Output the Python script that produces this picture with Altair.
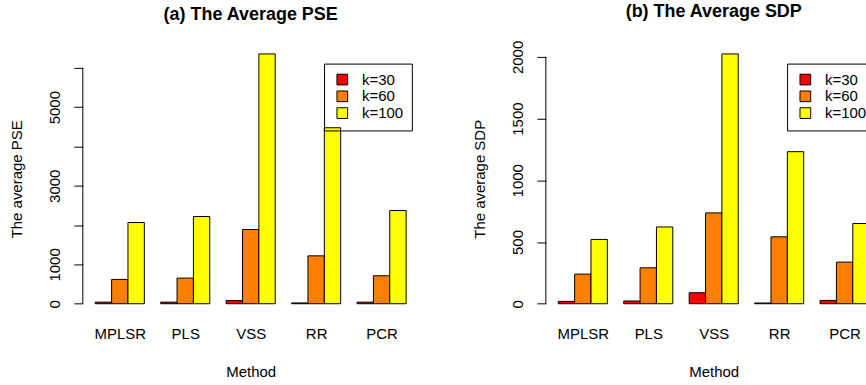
import json
import altair as alt
import pandas as pd

# ---------------- data ----------------
methods = ["MPLSR", "PLS", "VSS", "RR", "PCR"]
series = ["k=30", "k=60", "k=100"]
colors = ["#FF0000", "#FF8000", "#FFFF00"]

pse_k30 = [40, 40, 80, 20, 40]
pse_k60 = [619, 652, 1888, 1218, 711]
pse_k100 = [2066, 2218, 6355, 4477, 2371]

sdp_k30 = [19, 22, 89, 6, 27]
sdp_k60 = [240, 291, 736, 542, 337]
sdp_k100 = [521, 622, 2024, 1232, 650]

pse_ticks = [0, 1000, 2000, 3000, 4000, 5000, 6000]
pse_labeled = [0, 1000, 3000, 5000]
sdp_ticks = [0, 500, 1000, 1500, 2000]
sdp_labeled = [0, 500, 1000, 1500, 2000]

FONT = "Liberation Sans"
UNIT = 16.4          # px per bar width
PLOT_H = 270.4
FS = 15


def make_df(vals_by_series):
    rows = []
    for si, (s, vals) in enumerate(zip(series, vals_by_series)):
        for gi, (m, v) in enumerate(zip(methods, vals)):
            rows.append({"method": m, "series": s, "value": v, "gi": gi, "si": si})
    return pd.DataFrame(rows)


def panel(df, title, ytitle, ticks, labeled):
    per = len(series) + 1
    n = len(methods) * per
    xdom = [1 - 0.04 * (n - 1), n + 0.04 * (n - 1)]
    width = (xdom[1] - xdom[0]) * UNIT
    ymax = float(df["value"].max())
    ydom = [-0.04 * ymax, 1.04 * ymax]
    centers = [gi * per + 1 + len(series) / 2 for gi in range(len(methods))]
    label_expr = f"{json.dumps(methods)}[round((datum.value - {centers[0]}) / {per})]"
    ylab_expr = f"indexof({json.dumps(labeled)}, datum.value) >= 0 ? datum.label : ''"

    bars = alt.Chart(df).transform_calculate(
        x0=f"datum.gi * {per} + datum.si + 1",
        x1=f"datum.gi * {per} + datum.si + 2",
    ).mark_bar(stroke="black", strokeWidth=1, opacity=1).encode(
        x=alt.X("x0:Q",
                scale=alt.Scale(domain=xdom, nice=False, zero=False),
                axis=alt.Axis(values=centers, labelExpr=label_expr, domain=False,
                              ticks=False, tickSize=0, grid=False, labelFontSize=FS,
                              labelBaseline="alphabetic", labelPadding=25.3,
                              labelFlush=False, labelOverlap=False,
                              title="Method", titleFontSize=FS, titleFontWeight="normal",
                              titleBaseline="alphabetic", titleY=62.5)),
        x2="x1:Q",
        y=alt.Y("value:Q", stack=None,
                scale=alt.Scale(domain=ydom, nice=False, zero=False),
                axis=alt.Axis(values=ticks, labelExpr=ylab_expr, format="d", domain=False,
                              grid=False, tickSize=9, tickColor="black", tickWidth=1,
                              labelAngle=270, labelAlign="center", labelBaseline="alphabetic",
                              labelPadding=14.5, labelFontSize=FS, labelOverlap=False,
                              title=ytitle, titleFontSize=FS, titleFontWeight="normal",
                              titleAngle=270, titleBaseline="alphabetic", titleX=-61.5)),
        y2=alt.datum(0),
        color=alt.Color("series:N", title=None,
                        scale=alt.Scale(domain=series, range=colors),
                        legend=alt.Legend(orient="none", legendX=241.8, legendY=19.7,
                                          strokeColor="black",
                                          padding=8.5, symbolType="square", symbolSize=115,
                                          symbolStrokeColor="black", symbolStrokeWidth=1,
                                          symbolOpacity=1, symbolOffset=2.3,
                                          labelFontSize=FS, labelOffset=12.2,
                                          rowPadding=0.8, labelColor="black")),
    )

    line_df = pd.DataFrame({"lo": [ticks[0]], "hi": [ticks[-1]]})
    axis_line = alt.Chart(line_df).mark_rule(color="black", strokeWidth=1).encode(
        x=alt.value(0), y="lo:Q", y2="hi:Q")

    return alt.layer(bars, axis_line).properties(
        width=width, height=PLOT_H,
        title=alt.TitleParams(text=title, fontSize=18, fontWeight="bold", anchor="middle",
                              baseline="alphabetic", offset=5.7, color="black"))


left = panel(make_df([pse_k30, pse_k60, pse_k100]), "(a) The Average PSE",
             "The average PSE", pse_ticks, pse_labeled)
right = panel(make_df([sdp_k30, sdp_k60, sdp_k100]), "(b) The Average SDP",
              "The average SDP", sdp_ticks, sdp_labeled)

chart = alt.hconcat(left, right, spacing=53.1).resolve_scale(
    color="independent").resolve_legend(color="independent").properties(
    padding={"left": 9, "top": 1.6, "right": -16, "bottom": 3}
).configure(font=FONT).configure_view(strokeWidth=0).configure_axis(
    labelColor="black", titleColor="black", domainColor="black")

chart.save("out.html", embed_options={"renderer": "svg", "actions": False})
